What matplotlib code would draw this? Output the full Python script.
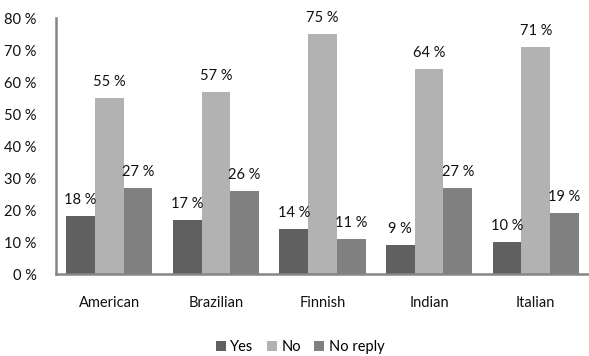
import matplotlib
matplotlib.use("Agg")
import matplotlib.pyplot as plt
import numpy as np

categories = ["American", "Brazilian", "Finnish", "Indian", "Italian"]
yes = [18, 17, 14, 9, 10]
no = [55, 57, 75, 64, 71]
no_reply = [27, 26, 11, 27, 19]
series = [("Yes", yes, "#606060"), ("No", no, "#b2b2b2"), ("No reply", no_reply, "#808080")]
yticks = [0, 10, 20, 30, 40, 50, 60, 70, 80]

plt.rcParams["font.family"] = ["Lato", "DejaVu Sans"]

fig = plt.figure(figsize=(5.89, 3.56), dpi=100)
ax = fig.add_axes([56 / 589, 1 - 274 / 356, 533 / 589, 256 / 356])

x = np.arange(len(categories))
w = 0.27
for i, (name, vals, col) in enumerate(series):
    pos = x + (i - 1) * w
    ax.bar(pos, vals, width=w, color=col, label=name, zorder=2)
    for xi, v in zip(pos, vals):
        ax.annotate(f"{v} %", (xi, v), xytext=(0, 11.5), textcoords="offset points",
                    ha="center", va="center", fontsize=10.5, color="#111111")

ax.set_xlim(-0.5, len(categories) - 0.5)
ax.set_ylim(0, 80)
ax.set_yticks(yticks)
ax.set_yticklabels([f"{t} %" for t in yticks], fontsize=10.5, color="#111111")
ax.set_xticks(x)
ax.set_xticklabels(categories, fontsize=10.5, color="#111111")
ax.tick_params(axis="both", length=0)
ax.tick_params(axis="x", pad=16)
ax.tick_params(axis="y", pad=14)
for s in ["top", "right"]:
    ax.spines[s].set_visible(False)
for s in ["left", "bottom"]:
    ax.spines[s].set_color("#868686")
    ax.spines[s].set_linewidth(1.8)

fig.legend(loc="center", bbox_to_anchor=(300 / 589, 1 - 347 / 356), ncol=3, frameon=False,
           fontsize=10.5, handlelength=0.7, handleheight=0.7, handletextpad=0.3, columnspacing=0.9)

fig.savefig("out.png", dpi=100)
